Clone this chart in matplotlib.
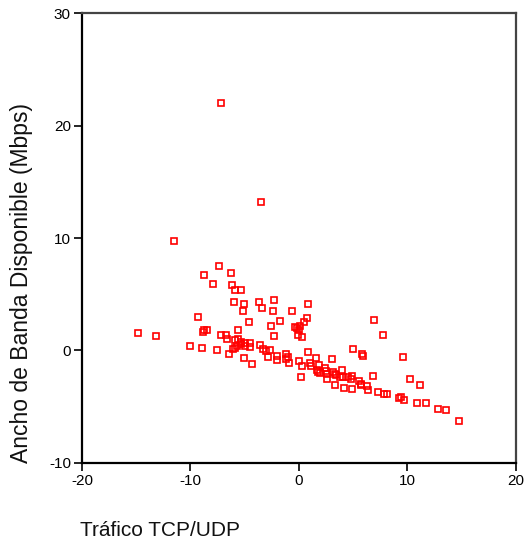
import matplotlib
matplotlib.use('Agg')
import matplotlib.pyplot as plt
import numpy as np

plt.rcParams['font.family'] = ['Liberation Sans', 'DejaVu Sans']
plt.rcParams['axes.unicode_minus'] = False

# Tráfico TCP/UDP vs. ancho de banda disponible (Mbps)
trafico = [
    -7.2, -3.5, -11.5, -7.4, -8.75, -6.25, -7.9, -6.15, -5.85, -5.3,
    -6.0, -5.05, -5.2, -9.3, -3.65, -2.3, -3.4, -2.4, -0.65, 0.85,
    0.75, 0.45, -4.65, -1.75, -2.6, 6.9, 7.75, -5.6,
    -14.8, -13.15, -8.85, -8.45, -8.75, -7.15, -6.75, -6.65, -5.9, -5.6,
    -10.0, -8.9, -7.6, -6.45,
    -0.4, -0.2, 0.0, 0.1, -0.1, 0.3, -2.3, -6.05, -5.9, -5.75,
    -5.3, -4.95, -5.35, -4.95, -4.5, -4.5, -5.05, -4.35, -3.55, -3.35,
    -3.05, -2.65, -2.85, -2.05, -2.0, -1.2, -1.0, -0.9, -1.15, 0.05,
    0.3, 0.85, 1.55, 0.2, 1.0, 1.15, 1.65, 1.8, 1.85, 1.95,
    2.4, 2.5, 2.6, 2.6, 3.05, 3.1, 3.3, 3.4, 3.35, 4.0,
    4.1, 3.8, 4.15, 4.55, 4.8, 4.9, 4.9, 5.0, 5.8, 5.95,
    5.55, 5.75, 5.7, 6.3, 6.4, 6.8, 7.3, 7.85, 8.15, 9.55,
    10.2, 11.15, 9.25, 9.4, 9.65, 10.9, 11.7, 12.85, 13.6, 14.75,
]
ancho_banda = [
    22.0, 13.2, 9.75, 7.5, 6.7, 6.85, 5.95, 5.8, 5.4, 5.4,
    4.35, 4.1, 3.55, 3.0, 4.35, 4.5, 3.8, 3.55, 3.55, 4.1,
    2.9, 2.5, 2.5, 2.6, 2.2, 2.75, 1.4, 1.85,
    1.55, 1.3, 1.6, 1.8, 1.85, 1.4, 1.4, 1.0, 0.9, 1.05,
    0.4, 0.25, 0.05, -0.3,
    2.1, 2.0, 1.85, 2.15, 1.4, 1.2, 1.3, 0.1, 0.25, 0.4,
    0.55, 0.4, 0.75, 0.7, 0.7, 0.3, -0.7, -1.2, 0.45, 0.15,
    -0.05, 0.0, -0.55, -0.5, -0.85, -0.35, -0.55, -1.15, -0.8, -0.95,
    -1.35, -0.15, -0.65, -2.4, -1.1, -1.4, -1.7, -1.9, -1.25, -2.0,
    -1.6, -1.85, -2.05, -2.55, -0.75, -1.9, -2.05, -2.2, -3.1, -1.75,
    -2.4, -2.35, -3.35, -2.4, -2.55, -2.25, -3.45, 0.1, -0.3, -0.45,
    -2.7, -2.95, -3.1, -3.15, -3.5, -2.3, -3.7, -3.9, -3.9, -0.55,
    -2.5, -3.1, -4.2, -4.1, -4.4, -4.65, -4.65, -5.2, -5.3, -6.25,
]

x_ticks = [-20, -10, 0, 10, 20]
y_ticks = [-10, 0, 10, 20, 30]

fig = plt.figure(figsize=(5.24, 5.44), dpi=100)
ax = fig.add_axes([0.1565, 0.149, 0.828, 0.827])

ax.plot(trafico, ancho_banda, linestyle='none', marker='s', markersize=5,
        markerfacecolor='none', markeredgecolor='#ff0000', markeredgewidth=1.2)

ax.set_xlim(-20, 20)
ax.set_ylim(-10, 30)
ax.set_xticks(x_ticks)
ax.set_yticks(y_ticks)
ax.tick_params(direction='out', length=6, width=1.2, labelsize=11, pad=2,
               top=False, right=False)

for side in ['left', 'bottom']:
    ax.spines[side].set_linewidth(1.6)
    ax.spines[side].set_color('black')
for side in ['top', 'right']:
    ax.spines[side].set_linewidth(1.6)
    ax.spines[side].set_color('#444444')

fig.text(80 / 524, 1 - 531 / 544, 'Tráfico TCP/UDP', fontsize=15,
         ha='left', va='center', color='#111111')
fig.text(22 / 524, 1 - 283 / 544, 'Ancho de Banda Disponible (Mbps)',
         fontsize=16.5, rotation=90, ha='center', va='center', color='#111111')

fig.savefig('out.png', dpi=100)
